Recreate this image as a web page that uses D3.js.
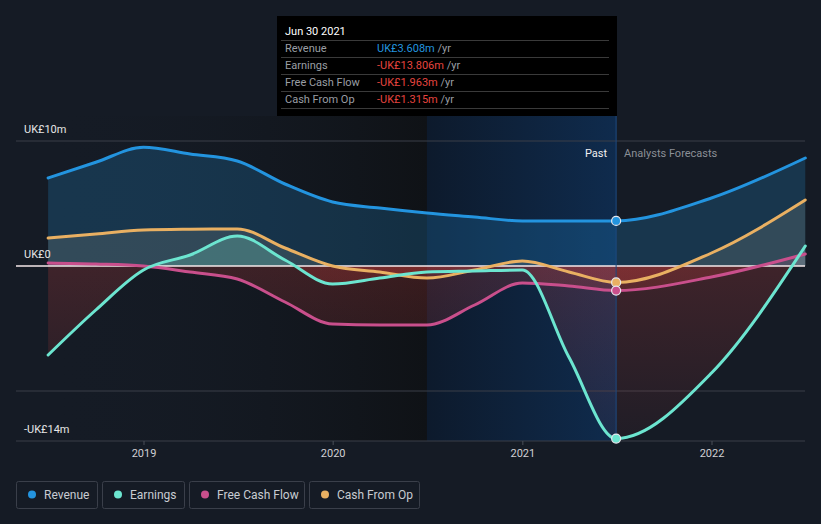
<!DOCTYPE html>
<html><head><meta charset="utf-8">
<script src="https://cdn.jsdelivr.net/npm/d3@7"></script>
<style>
html,body{margin:0;padding:0;background:#151b25;}
svg{display:block;font-family:Roboto,"Noto Sans",sans-serif;}
</style></head>
<body><svg id="c" width="821" height="524"></svg>
<script>
// ---- data ----
const dates = ["2018-06-30","2018-09-30","2018-12-31","2019-03-31","2019-06-30","2019-09-30","2019-12-31","2020-03-31","2020-06-30","2020-09-30","2020-12-31","2021-03-31","2021-06-30","2021-12-31","2022-06-30"];
const revenue      = [7.04, 8.3, 9.5, 8.96, 8.4, 6.56, 5.12, 4.64, 4.24, 3.92, 3.6, 3.6, 3.608, 5.44, 8.64];
const earnings     = [-7.12, -3.52, -0.32, 0.88, 2.4, 0.48, -1.44, -0.96, -0.48, -0.4, -0.32, -7.3, -13.806, -8.56, 1.6];
const freeCashFlow = [0.24, 0.16, 0.0, -0.48, -1.04, -2.88, -4.64, -4.72, -4.72, -3.12, -1.36, -1.6, -1.963, -0.88, 0.96];
const cashFromOp   = [2.24, 2.56, 2.88, 2.94, 2.96, 1.44, 0.0, -0.48, -0.96, -0.32, 0.4, -0.48, -1.315, 1.04, 5.28];
const seriesNames  = ["Revenue","Earnings","Free Cash Flow","Cash From Op"];
const seriesColors = ["#2394df","#6ce5d0","#c94f8c","#e9b062"];
const yTicks = [10, 0, -14];
const yTickLabels = ["UK£10m","UK£0","-UK£14m"];
const xTickDates = ["2019-01-01","2020-01-01","2021-01-01","2022-01-01"];
const xTickLabels = ["2019","2020","2021","2022"];
const tooltipTitle = "Jun 30 2021";
const tooltipValues = ["UK£3.608m","-UK£13.806m","-UK£1.963m","-UK£1.315m"];
const pastEnd = "2021-06-30";
const forecastBandStart = "2020-06-30";

const parse = d3.timeParse("%Y-%m-%d");
const D = dates.map(parse);
const allSeries = [revenue, earnings, freeCashFlow, cashFromOp];

const svg = d3.select("#c");
const x = d3.scaleTime().domain([parse("2019-01-01"), parse("2022-01-01")]).range([144, 712]);
const y = d3.scaleLinear().domain([-14, 10]).range([441, 141]);
const left = 16, right = 805;

const defs = svg.append("defs");
const g1 = defs.append("linearGradient").attr("id","darkband").attr("x1","0").attr("x2","1");
g1.append("stop").attr("offset","0").attr("stop-color","#151b25").attr("stop-opacity",0);
g1.append("stop").attr("offset","1").attr("stop-color","#0f1216").attr("stop-opacity",1);
const g2 = defs.append("linearGradient").attr("id","pastband").attr("x1","0").attr("x2","1");
g2.append("stop").attr("offset","0").attr("stop-color","#0d1a2c");
g2.append("stop").attr("offset","1").attr("stop-color","#0f2b4d");
const gr = defs.append("linearGradient").attr("id","neg").attr("x1","0").attr("x2","0")
  .attr("gradientUnits","userSpaceOnUse").attr("y1", y(0)).attr("y2", y(-14));
gr.append("stop").attr("offset","0").attr("stop-color","#e5443f").attr("stop-opacity",0.2);
gr.append("stop").attr("offset","1").attr("stop-color","#e5443f").attr("stop-opacity",0.05);
defs.append("clipPath").attr("id","pos").append("rect").attr("x",0).attr("y",0).attr("width",821).attr("height",y(0));
defs.append("clipPath").attr("id","negc").append("rect").attr("x",0).attr("y",y(0)).attr("width",821).attr("height",524-y(0));

const bandStartX = x(parse(forecastBandStart)), pastX = x(parse(pastEnd));
svg.append("rect").attr("x",x(D[0])).attr("y",116).attr("width",bandStartX-x(D[0])).attr("height",441-116).attr("fill","url(#darkband)");
svg.append("rect").attr("x",bandStartX).attr("y",116).attr("width",pastX-bandStartX).attr("height",441-116).attr("fill","url(#pastband)");

[10,-10,-14].forEach(v=>{
  svg.append("line").attr("x1",left).attr("x2",right).attr("y1",y(v)).attr("y2",y(v)).attr("stroke","#3a3f48").attr("stroke-width",1);
});

const posOpacity = [0.22, 0.28, 0.2, 0.2];
const posColor = ["#2394df","#6ce5d0","#c94f8c","#9a9a8e"];
allSeries.forEach((s,i)=>{
  const data = s.map((v,k)=>({d:D[k],v}));
  const area = d3.area().x(p=>x(p.d)).y0(y(0)).y1(p=>y(p.v)).curve(d3.curveMonotoneX);
  svg.append("path").attr("d",area(data)).attr("fill",posColor[i]).attr("fill-opacity",posOpacity[i]).attr("clip-path","url(#pos)");
  svg.append("path").attr("d",area(data)).attr("fill","url(#neg)").attr("clip-path","url(#negc)");
});

svg.append("line").attr("x1",left).attr("x2",right).attr("y1",y(0)).attr("y2",y(0)).attr("stroke","#f4e9ea").attr("stroke-width",1.5);

const drawOrder = [0,3,2,1];
drawOrder.forEach(i=>{
  const data = allSeries[i].map((v,k)=>({d:D[k],v}));
  const line = d3.line().x(p=>x(p.d)).y(p=>y(p.v)).curve(d3.curveMonotoneX);
  svg.append("path").attr("d",line(data)).attr("fill","none").attr("stroke",seriesColors[i]).attr("stroke-width",3).attr("stroke-linecap","round");
});

svg.append("line").attr("x1",pastX).attr("x2",pastX).attr("y1",116).attr("y2",441).attr("stroke","#1e4a80").attr("stroke-width",1);
const pi = dates.indexOf(pastEnd);
[0,3,2,1].forEach(i=>{
  svg.append("circle").attr("cx",pastX).attr("cy",y(allSeries[i][pi])).attr("r",4.5).attr("fill",seriesColors[i]).attr("stroke","#e8e8ee").attr("stroke-width",1.2);
});

yTicks.forEach((v,i)=>{
  svg.append("text").attr("x",24).attr("y",y(v)-8).text(yTickLabels[i]).attr("fill","#e6e6e6").attr("font-size",11);
});
xTickDates.forEach((d,i)=>{
  const xx = x(parse(d));
  svg.append("line").attr("x1",xx).attr("x2",xx).attr("y1",441).attr("y2",445).attr("stroke","#4a4f58");
  svg.append("text").attr("x",xx).attr("y",457).attr("text-anchor","middle").text(xTickLabels[i]).attr("fill","#d0d0d4").attr("font-size",11);
});

svg.append("text").attr("x",pastX-9).attr("y",157).attr("text-anchor","end").text("Past").attr("fill","#f0f0f0").attr("font-size",11);
svg.append("text").attr("x",pastX+8).attr("y",157).text("Analysts Forecasts").attr("fill","#8b8f96").attr("font-size",11);

const tt = svg.append("g");
tt.append("rect").attr("x",277).attr("y",16).attr("width",340).attr("height",100).attr("fill","#000");
tt.append("text").attr("x",285).attr("y",35).text(tooltipTitle).attr("fill","#fff").attr("font-size",11);
const valColors = ["#2394df","#e5443f","#e5443f","#e5443f"];
[40,57,74,91,108].forEach(yy=>tt.append("line").attr("x1",281).attr("x2",609).attr("y1",yy+0.5).attr("y2",yy+0.5).attr("stroke","#3a3a3a"));
seriesNames.forEach((n,i)=>{
  const yy = 52 + i*17;
  tt.append("text").attr("x",285).attr("y",yy).text(n).attr("fill","#9a9ea4").attr("font-size",11);
  const t = tt.append("text").attr("x",377).attr("y",yy).attr("font-size",11);
  t.append("tspan").text(tooltipValues[i]).attr("fill",valColors[i]);
  t.append("tspan").text(" /yr").attr("fill","#9a9ea4");
});

const legX = [16,102,189,309], legW = [81,82,115,110];
seriesNames.forEach((n,i)=>{
  const g = svg.append("g");
  g.append("rect").attr("x",legX[i]+0.5).attr("y",481.5).attr("width",legW[i]).attr("height",27).attr("rx",2).attr("fill","none").attr("stroke","#3a3f4a");
  g.append("circle").attr("cx",legX[i]+16).attr("cy",494.5).attr("r",4).attr("fill",seriesColors[i]);
  g.append("text").attr("x",legX[i]+28).attr("y",498.5).text(n).attr("fill","#c8ccd2").attr("font-size",12);
});
</script></body></html>
